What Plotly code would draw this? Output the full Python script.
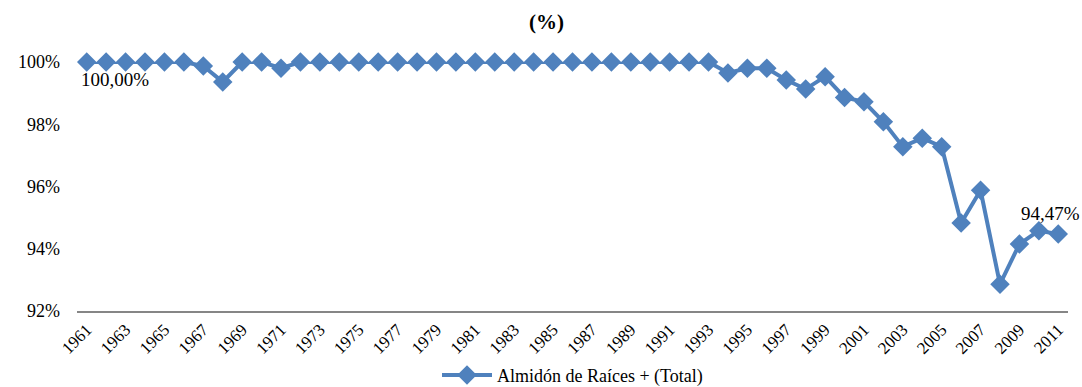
import plotly.graph_objects as go

years = [str(y) for y in range(1961, 2012)]
values = [100, 100, 100, 100, 100, 100, 99.87, 99.36, 100, 100,
          99.80, 100, 100, 100, 100, 100, 100, 100, 100, 100,
          100, 100, 100, 100, 100, 100, 100, 100, 100, 100,
          100, 100, 100, 99.65, 99.80, 99.80, 99.42, 99.13, 99.53, 98.86,
          98.72, 98.08, 97.28, 97.55, 97.28, 94.83, 95.88, 92.86, 94.15, 94.58,
          94.47]
tick_years = [str(y) for y in range(1961, 2012, 2)]
y_ticks = [92, 94, 96, 98, 100]
y_labels = ["92%", "94%", "96%", "98%", "100%"]
series_name = "Almidón de Raíces + (Total)"
blue = "#4F81BD"
font_family = '"Liberation Serif", serif'

fig = go.Figure()
fig.add_trace(go.Scatter(
    x=years, y=values, mode="lines+markers", name=series_name,
    line=dict(color=blue, width=4),
    marker=dict(symbol="diamond", size=15, color=blue),
    cliponaxis=False,
))

fig.add_annotation(x=0, y=values[0], text="100,00%", showarrow=False,
                   xanchor="left", yanchor="top", xshift=-8, yshift=-5,
                   font=dict(size=19, color="black", family=font_family))
fig.add_annotation(x=len(years) - 1, y=values[-1], text="94,47%", showarrow=False,
                   xanchor="right", yanchor="bottom", xshift=24, yshift=8,
                   font=dict(size=19, color="black", family=font_family))

fig.update_layout(
    width=1082, height=387,
    margin=dict(l=77, r=14, t=62, b=76),
    paper_bgcolor="white", plot_bgcolor="white",
    font=dict(family=font_family, size=17, color="black"),
    title=dict(text="<b>(%)</b>", x=0.505, xanchor="center", y=0.943, yanchor="middle",
               xref="container", font=dict(size=21, family=font_family)),
    showlegend=True,
    legend=dict(orientation="h", x=0.5, xanchor="center", y=0.03, yanchor="middle",
                yref="container", font=dict(size=18, family=font_family), itemwidth=50),
)
fig.update_xaxes(type="category", range=[-0.5, 50.5], tickmode="array",
                 tickvals=tick_years, ticktext=tick_years, tickangle=-45,
                 showline=True, linecolor="#868686", linewidth=2, showgrid=False,
                 ticks="", automargin=False, tickfont=dict(size=17, family=font_family))
fig.update_yaxes(range=[92, 100], tickmode="array", tickvals=y_ticks, ticktext=y_labels,
                 showline=False, showgrid=False, zeroline=False, ticks="", automargin=False,
                 ticklabelstandoff=16, tickfont=dict(size=18, family=font_family))

fig.write_html("out.html", config={"displayModeBar": False},
               post_script="document.body.style.margin='0';")
